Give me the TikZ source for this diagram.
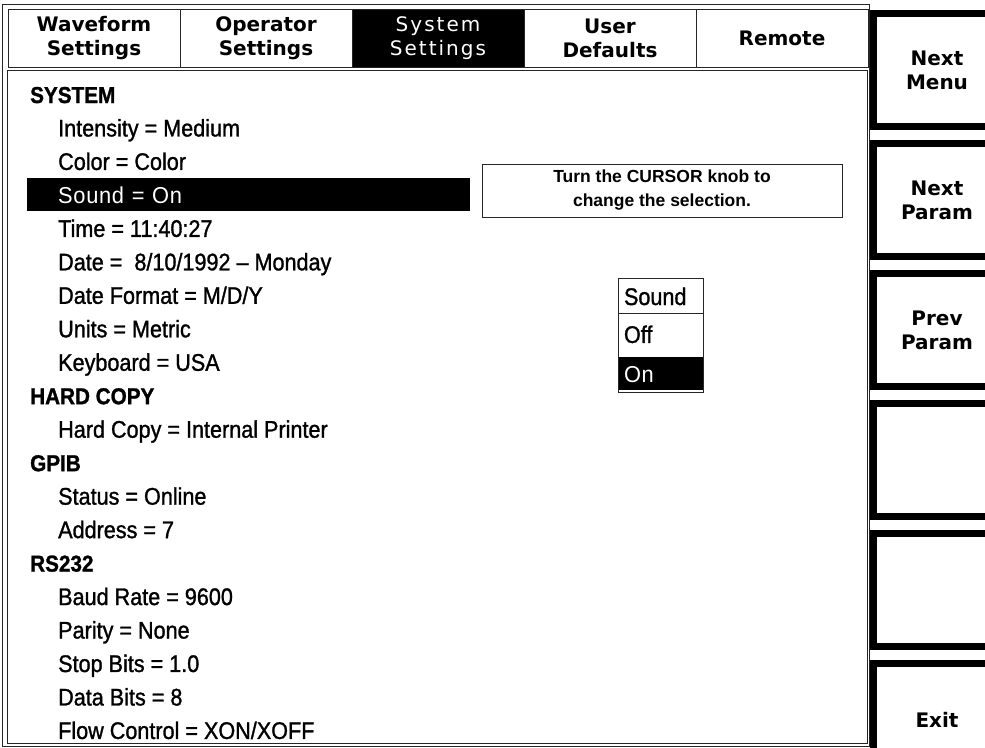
\documentclass[tikz,border=0pt]{standalone}
\usepackage{fontspec}
\setmainfont{Liberation Sans}
\newfontfamily\keyfont{DejaVu Sans}
\newfontfamily\selfont{DejaVu Sans}[LetterSpace=10]
\newfontfamily\menufont{Liberation Sans}[FakeStretch=0.9, FakeBold=1.2]
\newfontfamily\lightfont{Liberation Sans}[FakeStretch=0.95, LetterSpace=3]
\usetikzlibrary{positioning}

\tikzset{
  frame/.style   = {draw=black!85, line width=1pt},
  tab/.style     = {frame, rectangle, minimum width=172pt, minimum height=58pt, inner sep=0pt,
                    align=center, font=\keyfont\bfseries\fontsize{20}{24}\selectfont},
  tabon/.style   = {tab, fill=black, text=white, font=\selfont\fontsize{20}{24}\selectfont},
  softkey/.style = {draw=black, line width=7pt, rectangle, minimum width=127pt, minimum height=113pt,
                    inner sep=0pt, align=center, font=\keyfont\bfseries\fontsize{20}{24}\selectfont},
  item/.style    = {inner sep=0pt, text height=19pt, text depth=1pt, minimum height=33.07pt,
                    font=\menufont\fontsize{24}{26}\selectfont},
  head/.style    = {item, font=\menufont\bfseries\fontsize{23}{26}\selectfont},
  sel/.style     = {item, fill=black, text=white, inner xsep=31pt, text width=381pt, align=left,
                    font=\lightfont\fontsize{23}{26}\selectfont},
  popitem/.style = {item, inner xsep=5pt, text width=74pt, align=left},
}

\begin{document}
\begin{tikzpicture}[x=1pt, y=-1pt]

\useasboundingbox (0,0) rectangle (985,747);

\draw [frame] (2,4) rectangle (869,746);
\draw [frame] (7,70) rectangle (867,743);

% menu tabs
\node [tab                                    ] (waveform) at (94,38) {Waveform\\Settings};
\node [tab,   right=-\pgflinewidth of waveform] (operator) {Operator\\Settings};
\node [tabon, right=-\pgflinewidth of operator] (system)   {System\\Settings};
\node [tab,   right=-\pgflinewidth of system  ] (user)     {User\\Defaults};
\node [tab,   right=-\pgflinewidth of user    ] (remote)   {Remote};

% side keys
\node [softkey                       ] (nextmenu)  at (937,70) {Next\\Menu};
\node [softkey, below=10pt of nextmenu ] (nextparam) {Next\\Param};
\node [softkey, below=10pt of nextparam] (prevparam) {Prev\\Param};
\node [softkey, below=10pt of prevparam] (blanka)    {};
\node [softkey, below=10pt of blanka   ] (blankb)    {};
\node [softkey, below=10pt of blankb   ] (exit)      {Exit};

% parameter list
\node [head, anchor=west] (sys) at (30,94) {SYSTEM};
\node [item, below=0pt of sys.south west, anchor=north west, xshift=28pt] (intensity) {Intensity = Medium};
\node [item, below=0pt of intensity.south west, anchor=north west] (color) {Color = Color};
\node [sel,  below=0pt of color.south west, anchor=north west, xshift=-31pt] (sound) {Sound = On};
\node [item, below=0pt of sound.south west, anchor=north west, xshift=31pt] (time) {Time = 11:40:27};
\node [item, below=0pt of time.south west, anchor=north west] (date) {Date = \ 8/10/1992 – Monday};
\node [item, below=0pt of date.south west, anchor=north west] (datefmt) {Date Format = M/D/Y};
\node [item, below=0pt of datefmt.south west, anchor=north west] (units) {Units = Metric};
\node [item, below=0pt of units.south west, anchor=north west] (keyboard) {Keyboard = USA};
\node [head, below=0pt of keyboard.south west, anchor=north west, xshift=-28pt] (hc) {HARD COPY};
\node [item, below=0pt of hc.south west, anchor=north west, xshift=28pt] (hardcopy) {Hard Copy = Internal Printer};
\node [head, below=0pt of hardcopy.south west, anchor=north west, xshift=-28pt] (gpib) {GPIB};
\node [item, below=0pt of gpib.south west, anchor=north west, xshift=28pt] (status) {Status = Online};
\node [item, below=0pt of status.south west, anchor=north west] (address) {Address = 7};
\node [head, below=0pt of address.south west, anchor=north west, xshift=-28pt] (rs) {RS232};
\node [item, below=0pt of rs.south west, anchor=north west, xshift=28pt] (baud) {Baud Rate = 9600};
\node [item, below=0pt of baud.south west, anchor=north west] (parity) {Parity = None};
\node [item, below=0pt of parity.south west, anchor=north west] (stopbits) {Stop Bits = 1.0};
\node [item, below=0pt of stopbits.south west, anchor=north west] (databits) {Data Bits = 8};
\node [item, below=0pt of databits.south west, anchor=north west] (flow) {Flow Control = XON/XOFF};

% hint box
\node [frame, minimum width=360pt, minimum height=53pt, align=center,
       font=\bfseries\fontsize{17.5}{24}\selectfont] (hint) at (662,190.5)
      {Turn the CURSOR knob to\\change the selection.};

% choice list
\node [popitem, minimum height=34pt                   ] (sndtitle) at (661,296) {Sound};
\node [popitem, minimum height=41pt, below=0pt of sndtitle] (sndoff) {Off};
\node [popitem, minimum height=33pt, below=2pt of sndoff, fill=black, text=white,
       font=\lightfont\fontsize{23}{26}\selectfont] (sndon) {On};
\draw [frame] (sndtitle.north west) rectangle ([yshift=-2pt]sndon.south east);
\draw [frame] (sndtitle.south west) -- (sndtitle.south east);

\end{tikzpicture}
\end{document}
